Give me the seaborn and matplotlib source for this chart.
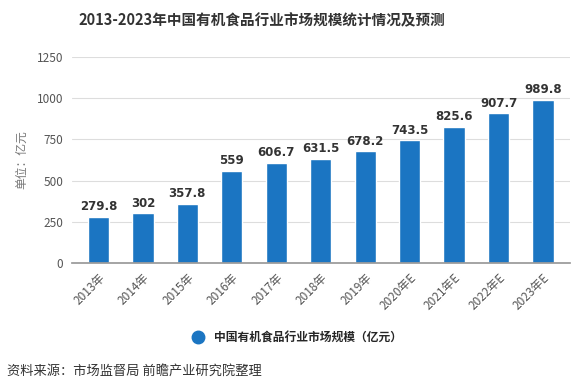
import matplotlib
matplotlib.use("Agg")
import matplotlib.pyplot as plt
import seaborn as sns
import pandas as pd
from matplotlib.lines import Line2D

# chart data
years = ["2013年", "2014年", "2015年", "2016年", "2017年", "2018年",
         "2019年", "2020年E", "2021年E", "2022年E", "2023年E"]
market_size = [279.8, 302, 357.8, 559, 606.7, 631.5, 678.2, 743.5, 825.6, 907.7, 989.8]
value_labels = ["279.8", "302", "357.8", "559", "606.7", "631.5",
                "678.2", "743.5", "825.6", "907.7", "989.8"]
y_ticks = [0, 250, 500, 750, 1000, 1250]

sns.set_theme(style="white")
plt.rcParams['font.family'] = ['Noto Sans CJK SC', 'DejaVu Sans']

df = pd.DataFrame({"year": years, "size": market_size})

fig = plt.figure(figsize=(5.88, 3.92), dpi=100)
ax = fig.add_axes([0.122, 0.329, 0.847, 0.526])

bar_color = "#1b75c2"
sns.barplot(data=df, x="year", y="size", color=bar_color, width=0.48,
            saturation=1, ax=ax)

for i, (v, lab) in enumerate(zip(market_size, value_labels)):
    ax.text(i, v + 22, lab, ha="center", va="bottom", fontsize=8.5,
            fontweight="bold", color="#333333", family=['DejaVu Sans'])

ax.set_ylim(0, 1250)
ax.set_yticks(y_ticks)
ax.set_yticklabels([str(t) for t in y_ticks], fontsize=8.5, color="#555555")
ax.set_xlim(-0.6, len(years) - 0.4)
ax.yaxis.grid(True, color="#dddddd", linewidth=0.8)
ax.set_axisbelow(True)
ax.tick_params(axis="y", length=0, pad=6)
ax.tick_params(axis="x", length=4, color="#999999", pad=2)
plt.setp(ax.get_xticklabels(), rotation=45, ha="right", rotation_mode="anchor",
         fontsize=8.5, color="#555555")

for side in ["top", "right", "left"]:
    ax.spines[side].set_visible(False)
ax.spines["bottom"].set_color("#999999")

ax.set_xlabel("")
ax.set_ylabel("单位：亿元", fontsize=8.5, color="#777777", labelpad=6)

fig.text(0.446, 0.948, "2013-2023年中国有机食品行业市场规模统计情况及预测",
         ha="center", va="center", fontsize=10.5, fontweight="bold", color="#333333")

handle = Line2D([], [], marker="o", linestyle="", markersize=9, color=bar_color)
fig.legend([handle], ["中国有机食品行业市场规模（亿元）"], loc="center",
           bbox_to_anchor=(0.5, 0.138), frameon=False,
           prop={"size": 8.5, "weight": "bold"}, handletextpad=0.4)

fig.text(0.012, 0.053, "资料来源：市场监督局 前瞻产业研究院整理", ha="left", va="center",
         fontsize=9.5, color="#333333")

fig.savefig("out.png", dpi=100)
